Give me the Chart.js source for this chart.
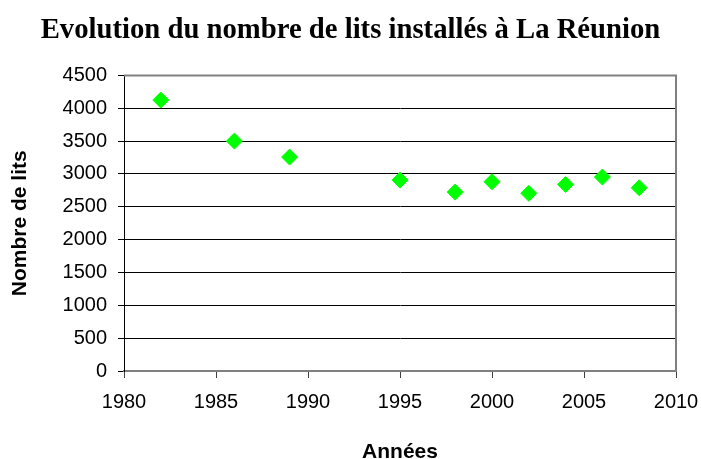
<!DOCTYPE html>
<html>
<head>
<meta charset="utf-8">
<script src="https://cdn.jsdelivr.net/npm/chart.js@4/dist/chart.umd.min.js"></script>
<style>
  body { margin: 0; background: #fff; }
  canvas { display: block; }
</style>
</head>
<body>
<canvas id="litsChart" width="701" height="459"></canvas>
<script>
// données
const years = [1982, 1986, 1989, 1995, 1998, 2000, 2002, 2004, 2006, 2008];
const beds = [4125, 3500, 3257, 2907, 2724, 2881, 2705, 2841, 2953, 2790];
const xTicks = [1980, 1985, 1990, 1995, 2000, 2005, 2010];
const yTicks = [0, 500, 1000, 1500, 2000, 2500, 3000, 3500, 4000, 4500];

// cadre gris en haut et à droite de la zone de tracé
const frame = {
    id: 'frame',
    beforeDatasetsDraw(chart) {
        const { ctx, chartArea } = chart;
        ctx.save();
        ctx.strokeStyle = '#808080';
        ctx.lineWidth = 2;
        ctx.beginPath();
        ctx.moveTo(chartArea.left, chartArea.top);
        ctx.lineTo(chartArea.right, chartArea.top);
        ctx.lineTo(chartArea.right, chartArea.bottom);
        ctx.stroke();
        ctx.restore();
    }
};

document.addEventListener('DOMContentLoaded', function () {
    const ctx = document.getElementById('litsChart').getContext('2d');

    new Chart(ctx, {
        type: 'scatter',
        data: {
            datasets: [{
                label: 'Nombre de lits',
                data: years.map((y, i) => ({ x: y, y: beds[i] })),
                pointStyle: 'rectRot',
                pointRadius: 8,
                pointBorderWidth: 1,
                backgroundColor: '#00ff00',
                borderColor: '#00ff00',
            }],
        },
        options: {
            responsive: false,
            animation: false,
            layout: { padding: 0 },
            plugins: {
                legend: { display: false },
                tooltip: { enabled: false },
                title: {
                    display: true,
                    text: 'Evolution du nombre de lits installés à La Réunion',
                    color: '#000',
                    font: { family: '"Liberation Serif", serif', size: 28.7, weight: 'bold' },
                    padding: { top: 13, bottom: 28 },
                },
            },
            scales: {
                x: {
                    type: 'linear',
                    min: 1980,
                    max: 2010,
                    afterBuildTicks: (scale) => { scale.ticks = xTicks.map(v => ({ value: v })); },
                    afterFit: (scale) => {
                        scale.height = 459 - 371;
                        scale.paddingLeft = 0;
                        scale.paddingRight = 25;
                    },
                    ticks: {
                        color: '#000',
                        font: { family: '"Liberation Sans", Arial', size: 20 },
                        padding: 12,
                        maxRotation: 0,
                        callback: (v) => String(v),
                    },
                    grid: { drawOnChartArea: false, drawTicks: true, tickLength: 7, color: '#404040' },
                    border: { color: '#808080', width: 2 },
                    title: {
                        display: true,
                        text: 'Années',
                        color: '#000',
                        font: { family: '"Liberation Sans", Arial', size: 21, weight: 'bold', lineHeight: 1 },
                        padding: { top: 0, bottom: -4 },
                    },
                },
                y: {
                    min: 0,
                    max: 4500,
                    afterBuildTicks: (scale) => { scale.ticks = yTicks.map(v => ({ value: v })); },
                    afterFit: (scale) => { scale.width = 124; },
                    ticks: {
                        color: '#000',
                        font: { family: '"Liberation Sans", Arial', size: 20 },
                        padding: 11,
                        callback: (v) => String(v),
                    },
                    grid: { color: '#000', lineWidth: 1, tickLength: 6 },
                    border: { color: '#000', width: 1 },
                    title: {
                        display: true,
                        text: 'Nombre de lits',
                        color: '#000',
                        font: { family: '"Liberation Sans", Arial', size: 21, weight: 'bold', lineHeight: 1.2 },
                        padding: { top: 8, bottom: 0 },
                    },
                },
            },
        },
        plugins: [frame],
    });
});
</script>
</body>
</html>
